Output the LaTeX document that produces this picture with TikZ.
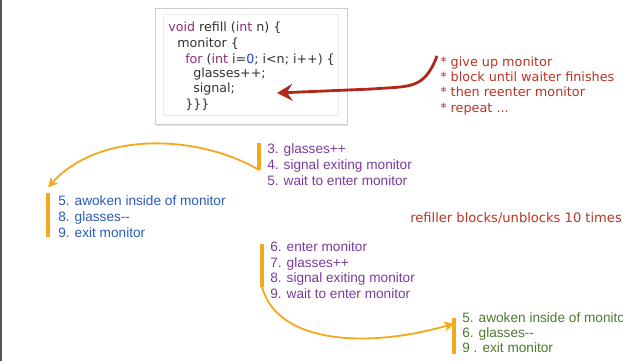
\documentclass[tikz,border=0pt]{standalone}
\usepackage{fontspec}
\setmainfont{Liberation Sans}
\newfontfamily\lucida{DejaVu Sans}
\usepackage{tikz}
\usetikzlibrary{arrows.meta,shadows,positioning}
\definecolor{kwpurple}{HTML}{8E2B77}
\definecolor{numblue}{HTML}{1F3FE0}
\definecolor{codegray}{HTML}{333333}
\definecolor{notered}{HTML}{BC3323}
\definecolor{arrowred}{HTML}{B0281A}
\definecolor{refpurple}{HTML}{7A3C9A}
\definecolor{waitblue}{HTML}{2B5BB5}
\definecolor{waitgreen}{HTML}{4E7A2E}
\definecolor{barorange}{HTML}{F4A81D}
\definecolor{edgegray}{HTML}{555555}
\newcommand{\kw}[1]{\textcolor{kwpurple}{#1}}

\begin{document}
\begin{tikzpicture}[x=0.025cm, y=-0.025cm,
    codebox/.style={rectangle, draw=gray!40, fill=white, minimum width=4.8cm, minimum height=2.9cm,
        drop shadow={opacity=0.2, shadow xshift=1pt, shadow yshift=-1.2pt}},
    codeline/.style={anchor=base west, inner sep=0, text=codegray, font=\lucida\fontsize{9}{11}\selectfont},
    steps/.style={anchor=base west, inner sep=0, align=left},
    note/.style={anchor=base west, inner sep=0, align=left, text=notered},
    bar/.style={barorange, line width=2.8pt},
    flow/.style={barorange, line width=1.3pt, -{Stealth[length=7pt, width=7pt, inset=2pt]}},
    back/.style={arrowred, line width=2pt, -{Stealth[length=11pt, width=12pt, inset=4pt]}}]

    \useasboundingbox (0,0) rectangle (623,361);
    \draw[edgegray, line width=1.5pt] (1,0) -- (1,361);

    % Code box
    \node[codebox] (code) at (251,66) {};
    \draw[gray!15] ([shift={(9,7)}]code.north west) rectangle ([shift={(-9,-9)}]code.south east);
    \node[codeline] (c1) at (168,32) {\kw{void} refill (\kw{int} n) \{};
    \node[codeline] (c2) at (177,48) {monitor \{};
    \node[codeline] (c3) at (185,63) {\kw{for} (\kw{int} i=\textcolor{numblue}{0}; i<n; i++) \{};
    \node[codeline] (c4) at (193,78) {glasses++;};
    \node[codeline] (c5) at (193,93) {signal;};
    \node[codeline] (c6) at (185,108) {\}\}\}};

    % Notes on signal (base = last line)
    \node[note, font=\lucida\fontsize{9.1}{10.9}\selectfont] (notes) at (440,112)
        {* give up monitor\\* block until waiter finishes\\* then reenter monitor\\* repeat ...};
    \coordinate (give) at (437,56);
    \coordinate (sig) at (277,93);
    \draw[back] (give) .. controls (424,90) and (410,86) .. (372,89) -- (sig);

    % Refiller, first round
    \node[steps, text=refpurple, font=\fontsize{9.7}{11.3}\selectfont] (refill1) at (267,185)
        {3. glasses++\\4. signal exiting monitor\\5. wait to enter monitor};
    \coordinate (r1top) at (259,143);
    \coordinate (r1bot) at (259,170);
    \draw[bar] (r1top) -- (r1bot);

    % Waiter wakes up
    \node[steps, text=waitblue, font=\fontsize{9.7}{11.3}\selectfont] (waiter1) at (58,237)
        {5. awoken inside of monitor\\8. glasses-{}-\\9. exit monitor};
    \coordinate (w1top) at (48,193);
    \coordinate (w1bot) at (48,237);
    \draw[bar] (w1top) -- (w1bot);
    \draw[flow] (r1bot) .. controls (200,135) and (100,130) .. ([yshift=4]w1top);

    % Loop count
    \node[note, font=\lucida\fontsize{9.3}{11}\selectfont] (blocks) at (410,222) {refiller blocks/unblocks 10 times};

    % Refiller, second round
    \node[steps, text=refpurple, font=\fontsize{9.7}{11}\selectfont] (refill2) at (270,298)
        {6. enter monitor\\7. glasses++\\8. signal exiting monitor\\9. wait to enter monitor};
    \coordinate (r2top) at (262,244);
    \coordinate (r2bot) at (262,287);
    \draw[bar] (r2top) -- (r2bot);

    % Next waiter
    \node[steps, text=waitgreen, font=\fontsize{9.7}{10.6}\selectfont] (waiter2) at (462,352)
        {5. awoken inside of monitor\\6. glasses-{}-\\9 . exit monitor};
    \coordinate (w2top) at (454,318);
    \coordinate (w2bot) at (454,354);
    \draw[bar] (w2top) -- (w2bot);
    \draw[flow] (r2bot) .. controls (278,345) and (370,348) .. ([yshift=-4]w2top);
\end{tikzpicture}
\end{document}
